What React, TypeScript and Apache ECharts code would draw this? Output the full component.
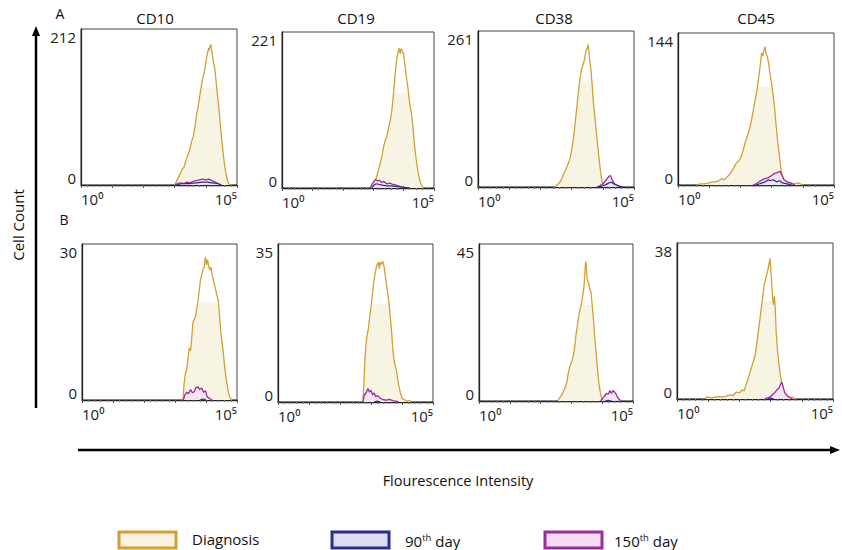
import React, { useEffect, useRef } from "react";
import * as echarts from "echarts";

// ---------- data (x in decades of fluorescence, y = cell count) ----------
const markers = ["CD10", "CD19", "CD38", "CD45"];
const rowLabels = ["A", "B"];
const yMaxLabels = [212, 221, 261, 144, 30, 35, 45, 38];
const fillCaps = [132, 135, 178, 93, 18.7, 21.7, 27.5, 23.9];
const legendNames = ["Diagnosis", "90th day", "150th day"];

const a1Diag = [[3.0,0],[3.05,4],[3.12,10],[3.2,17],[3.25,22],[3.3,24],[3.36,33],[3.42,40],[3.48,47],[3.55,60],[3.6,66],[3.65,78],[3.7,95],[3.76,108],[3.82,125],[3.88,140],[3.93,150],[3.98,160],[4.02,172],[4.06,180],[4.09,186],[4.11,183],[4.13,188],[4.16,191],[4.2,180],[4.24,168],[4.28,160],[4.32,145],[4.36,128],[4.4,112],[4.44,95],[4.48,75],[4.52,58],[4.56,42],[4.6,28],[4.65,15],[4.7,5],[4.75,1],[4.8,0]];
const a1D150 = [[3.0,0],[3.1,2],[3.2,3],[3.3,2],[3.4,4],[3.5,3],[3.6,5],[3.7,6],[3.8,7],[3.9,8],[4.0,7],[4.1,8],[4.2,6],[4.3,4],[4.4,2],[4.5,0]];
const a1D90 = [[3.05,0],[3.15,1],[3.3,2],[3.5,2],[3.7,3],[3.9,4],[4.05,4],[4.2,3],[4.35,2],[4.5,0]];

const a2Diag = [[2.92,0],[2.98,3],[3.05,8],[3.1,14],[3.15,22],[3.2,30],[3.25,38],[3.3,48],[3.35,60],[3.4,68],[3.44,72],[3.48,80],[3.53,90],[3.58,100],[3.62,112],[3.66,130],[3.7,150],[3.74,168],[3.78,185],[3.82,193],[3.86,198],[3.89,190],[3.91,197],[3.94,196],[3.97,192],[4.0,190],[4.04,176],[4.08,160],[4.12,150],[4.16,135],[4.2,120],[4.25,108],[4.3,90],[4.35,65],[4.4,45],[4.45,30],[4.5,17],[4.55,8],[4.6,3],[4.66,0]];
const a2D150 = [[2.9,0],[2.96,5],[3.02,9],[3.08,12],[3.14,10],[3.2,11],[3.28,8],[3.35,9],[3.45,6],[3.55,7],[3.65,5],[3.75,4],[3.9,2],[4.05,1],[4.2,0]];
const a2D90 = [[2.95,0],[3.02,4],[3.1,6],[3.2,5],[3.3,4],[3.45,3],[3.6,3],[3.8,2],[4.0,1],[4.2,0]];

const a3Diag = [[2.45,0],[2.55,4],[2.65,10],[2.75,22],[2.82,30],[2.9,40],[2.96,50],[3.02,68],[3.08,90],[3.13,115],[3.18,140],[3.22,160],[3.27,182],[3.32,198],[3.37,205],[3.42,215],[3.46,228],[3.5,232],[3.53,238],[3.55,230],[3.58,212],[3.62,196],[3.66,170],[3.7,140],[3.75,115],[3.8,88],[3.85,62],[3.9,38],[3.94,20],[3.98,8],[4.03,0]];
const a3D150 = [[3.8,0],[3.9,2],[4.0,5],[4.08,10],[4.14,14],[4.2,18],[4.25,19],[4.3,12],[4.36,6],[4.45,3],[4.55,1],[4.65,0]];
const a3D90 = [[3.85,0],[4.0,2],[4.1,4],[4.2,7],[4.28,8],[4.35,5],[4.45,3],[4.55,1],[4.65,0]];

const a4Diag = [[0.6,0],[0.7,1],[0.85,1],[1.0,2],[1.1,3],[1.2,3],[1.3,4],[1.4,6],[1.48,5],[1.55,7],[1.62,9],[1.7,12],[1.78,16],[1.85,20],[1.92,22],[2.0,25],[2.08,32],[2.15,40],[2.22,46],[2.3,54],[2.36,62],[2.42,72],[2.48,82],[2.53,90],[2.58,100],[2.63,112],[2.68,125],[2.72,122],[2.75,128],[2.79,131],[2.82,124],[2.86,122],[2.9,116],[2.95,105],[3.0,96],[3.05,85],[3.1,72],[3.15,55],[3.2,40],[3.25,28],[3.3,15],[3.36,7],[3.42,4],[3.5,3],[3.6,2],[3.7,1],[3.85,2],[4.0,0]];
const a4D150 = [[2.4,0],[2.5,1],[2.6,3],[2.7,5],[2.8,6],[2.9,7],[3.0,9],[3.1,11],[3.2,12],[3.27,13],[3.32,10],[3.4,5],[3.5,3],[3.6,2],[3.75,0]];
const a4D90 = [[2.5,0],[2.6,1],[2.7,2],[2.8,3],[2.9,5],[2.95,4],[3.05,5],[3.15,3],[3.25,4],[3.35,2],[3.5,1],[3.65,0]];

const b1Diag = [[3.26,0],[3.29,3],[3.33,5],[3.38,6],[3.42,8],[3.46,10],[3.5,9.5],[3.54,12],[3.58,15],[3.62,15.5],[3.66,16],[3.7,17.5],[3.74,19],[3.78,21],[3.82,23],[3.86,24],[3.9,25],[3.94,25.5],[3.98,27.5],[4.02,26],[4.05,27],[4.08,26],[4.12,25],[4.16,25.5],[4.2,24],[4.24,23],[4.28,22],[4.32,21],[4.36,20],[4.4,19],[4.44,16],[4.48,13],[4.52,11],[4.56,9],[4.6,6.5],[4.64,4.5],[4.68,3],[4.72,1.5],[4.77,0.5],[4.83,0]];
const b1D150 = [[3.27,0],[3.32,1],[3.38,1.5],[3.44,1.2],[3.5,2],[3.56,1.4],[3.62,1.6],[3.68,2.4],[3.74,2.5],[3.8,2],[3.86,2.3],[3.92,1.5],[3.98,1.8],[4.04,0.6],[4.12,0.3],[4.2,0]];
const b1D90 = [[3.8,0],[3.9,0.2],[4.0,0]];

const b2Diag = [[2.74,0],[2.77,4],[2.8,9],[2.84,13],[2.88,15],[2.92,16.5],[2.96,19],[3.0,21],[3.04,23.5],[3.08,26],[3.12,28],[3.16,29.5],[3.2,30.5],[3.24,31],[3.27,29.5],[3.3,31],[3.34,30.5],[3.38,31.2],[3.42,30],[3.46,28],[3.5,26],[3.54,24],[3.58,22],[3.62,19],[3.66,16],[3.7,12],[3.74,9.5],[3.78,8],[3.82,7],[3.86,5],[3.9,3.5],[3.95,2],[4.0,0.8],[4.08,0.5],[4.15,0.2],[4.25,0.3],[4.3,0]];
const b2D150 = [[2.74,0],[2.78,1.5],[2.84,2],[2.9,3],[2.95,2.2],[3.0,2.6],[3.05,1.6],[3.1,2],[3.15,1.2],[3.22,1.4],[3.3,0.8],[3.4,0.5],[3.5,0.4],[3.6,0.6],[3.7,0.3],[3.8,0.2],[3.9,0]];
const b2D90 = [[3.1,0],[3.2,0.2],[3.3,0]];

const b3Diag = [[2.56,0],[2.62,1],[2.7,2],[2.78,3.5],[2.84,5],[2.9,8],[2.95,10],[3.0,11],[3.05,12.5],[3.1,15],[3.15,19],[3.2,22],[3.25,25],[3.3,27],[3.35,29],[3.38,31],[3.41,33],[3.44,37],[3.46,40],[3.48,39],[3.51,35],[3.55,34],[3.6,32],[3.64,31],[3.68,27],[3.72,23],[3.76,18],[3.8,14],[3.84,10],[3.88,6],[3.92,3.5],[3.96,1.5],[4.02,0]];
const b3D150 = [[3.95,0],[4.02,0.8],[4.08,1.5],[4.14,2.2],[4.2,2],[4.25,3],[4.3,2.2],[4.35,3],[4.4,2.6],[4.45,2],[4.5,1],[4.56,0.4],[4.62,0]];
const b3D90 = [[4.1,0],[4.2,0.2],[4.3,0]];

const b4Diag = [[0.9,0],[0.95,0.5],[1.1,0.3],[1.3,0.6],[1.5,0.5],[1.7,1],[1.8,0.8],[1.9,1.7],[2.0,1.5],[2.08,2.2],[2.15,2],[2.2,3.2],[2.26,4.5],[2.32,6],[2.38,7.5],[2.44,9],[2.5,10.5],[2.55,13],[2.6,16],[2.65,19],[2.7,22],[2.75,25],[2.8,28],[2.85,29.5],[2.9,31],[2.94,32.5],[2.98,34.3],[3.02,30],[3.06,25],[3.09,23],[3.12,25],[3.15,22],[3.18,16],[3.22,12],[3.26,9],[3.3,6.5],[3.35,4],[3.4,2.5],[3.46,1],[3.55,0.4],[3.7,0.5],[3.8,0]];
const b4D150 = [[2.8,0],[2.9,0.3],[3.0,0.6],[3.08,1.2],[3.14,1.6],[3.2,2.2],[3.26,2.6],[3.32,3.6],[3.36,4.1],[3.4,3],[3.45,1.6],[3.5,1.2],[3.56,0.6],[3.62,0.3],[3.7,0]];
const b4D90 = [[2.9,0],[3.0,0.2],[3.1,0]];

const diagSets = [a1Diag, a2Diag, a3Diag, a4Diag, b1Diag, b2Diag, b3Diag, b4Diag];
const day90Sets = [a1D90, a2D90, a3D90, a4D90, b1D90, b2D90, b3D90, b4D90];
const day150Sets = [a1D150, a2D150, a3D150, a4D150, b1D150, b2D150, b3D150, b4D150];

// ---------- layout ----------
const gridBoxes = [
  [81, 29, 156, 156],
  [282, 32, 152, 156],
  [478, 31, 156, 156],
  [678, 33, 156, 152],
  [82, 244, 155, 156],
  [278, 244, 155, 158],
  [479, 244, 154, 157],
  [677, 243, 156, 156],
];

const FONT = "'Open Sans', 'Liberation Sans', sans-serif";
const GOLD = "#D3A031";
const CREAM = "#F8F4E4";
const BLUE = "#2D2D8E";
const BLUE_FILL = "#E6E6F4";
const PURPLE = "#9C2C9C";
const PURPLE_FILL = "#F3E2F2";

export default function App() {
  const ref = useRef<HTMLDivElement>(null);
  useEffect(() => {
    if (!ref.current) return;
    const chart = echarts.init(ref.current, undefined, { renderer: "svg" });

    const grid: any[] = [];
    const xAxis: any[] = [];
    const yAxis: any[] = [];
    const series: any[] = [];

    gridBoxes.forEach((b, i) => {
      grid.push({
        left: b[0], top: b[1], width: b[2], height: b[3],
        show: true, borderColor: "#444", borderWidth: 1, backgroundColor: "transparent",
      });
      xAxis.push({
        gridIndex: i, type: "value", min: 0, max: 5, interval: 1,
        axisLine: { show: true, onZero: false, lineStyle: { color: "#222", width: 1.3 } },
        axisTick: { show: true, length: 3, lineStyle: { color: "#555" } },
        minorTick: { show: true, splitNumber: 5, length: 2, lineStyle: { color: "#777" } },
        splitLine: { show: false },
        axisLabel: {
          fontFamily: FONT, fontSize: 15, color: "#222", margin: 6,
          showMinLabel: true, showMaxLabel: true,
          alignMinLabel: "left", alignMaxLabel: "right",
          formatter: (v: number) => (v === 0 ? "10\u2070" : v === 5 ? "10\u2075" : ""),
        },
      });
      const ymax = yMaxLabels[i];
      yAxis.push({
        gridIndex: i, type: "value", min: 0, max: ymax, interval: ymax,
        axisLine: { show: true, onZero: false, lineStyle: { color: "#222", width: 1.3 } },
        axisTick: { show: false, inside: true },
        minorTick: { show: false },
        splitLine: { show: false },
        axisLabel: {
          fontFamily: FONT, fontSize: 15, color: "#222", margin: 5,
          showMinLabel: true, showMaxLabel: true,
          verticalAlignMaxLabel: "top", verticalAlignMinLabel: "bottom",
        },
      });
      const cap = fillCaps[i];
      const diag = diagSets[i];
      series.push({
        type: "line", xAxisIndex: i, yAxisIndex: i, symbol: "none", silent: true,
        data: diag.map((p) => [p[0], Math.min(p[1], cap)]),
        lineStyle: { width: 0, opacity: 0 }, areaStyle: { color: CREAM, opacity: 1 }, z: 1,
      });
      series.push({
        type: "line", xAxisIndex: i, yAxisIndex: i, symbol: "none", silent: true,
        name: legendNames[0], data: diag,
        lineStyle: { color: GOLD, width: 1.3 }, z: 3,
      });
      series.push({
        type: "line", xAxisIndex: i, yAxisIndex: i, symbol: "none", silent: true,
        name: legendNames[2], data: day150Sets[i],
        lineStyle: { color: PURPLE, width: 1.3 }, areaStyle: { color: PURPLE_FILL, opacity: 0.8 }, z: 4,
      });
      series.push({
        type: "line", xAxisIndex: i, yAxisIndex: i, symbol: "none", silent: true,
        name: legendNames[1], data: day90Sets[i],
        lineStyle: { color: BLUE, width: 1.2 }, areaStyle: { color: BLUE_FILL, opacity: 0.6 }, z: 5,
      });
    });

    const titleCenters = [155, 356, 554, 756];
    const graphic: any[] = [];
    markers.forEach((m, i) => {
      graphic.push({
        type: "text", x: titleCenters[i], y: 18,
        style: { text: m, font: `15px ${FONT}`, fill: "#111", align: "center", verticalAlign: "middle" },
      });
    });
    graphic.push({ type: "text", x: 60, y: 13, style: { text: rowLabels[0], font: `14px ${FONT}`, fill: "#111", align: "center", verticalAlign: "middle" } });
    graphic.push({ type: "text", x: 64, y: 219, style: { text: rowLabels[1], font: `14px ${FONT}`, fill: "#111", align: "center", verticalAlign: "middle" } });

    // vertical arrow
    graphic.push({ type: "line", shape: { x1: 36, y1: 408, x2: 36, y2: 34 }, style: { stroke: "#000", lineWidth: 2.5 } });
    graphic.push({ type: "polygon", shape: { points: [[36, 26], [32, 36], [40, 36]] }, style: { fill: "#000" } });
    graphic.push({
      type: "text", x: 18, y: 225, rotation: Math.PI / 2,
      style: { text: "Cell Count", font: `15px ${FONT}`, fill: "#111", align: "center", verticalAlign: "middle" },
    });
    // horizontal arrow
    graphic.push({ type: "line", shape: { x1: 78, y1: 450, x2: 831, y2: 450 }, style: { stroke: "#000", lineWidth: 2.5 } });
    graphic.push({ type: "polygon", shape: { points: [[840, 450], [830, 446], [830, 454]] }, style: { fill: "#000" } });
    graphic.push({
      type: "text", x: 458, y: 480,
      style: { text: "Flourescence Intensity", font: `14.5px ${FONT}`, fill: "#111", align: "center", verticalAlign: "middle" },
    });

    // legend
    const legendBoxes = [
      { x: 119, stroke: GOLD, fill: "#FBF3E0", tx: 192 },
      { x: 332, stroke: BLUE, fill: "#DCDCF2", tx: 405 },
      { x: 545, stroke: PURPLE, fill: "#F3DCF1", tx: 614 },
    ];
    legendBoxes.forEach((lb, i) => {
      graphic.push({
        type: "rect", shape: { x: lb.x, y: 532, width: 57, height: 16 },
        style: { fill: lb.fill, stroke: lb.stroke, lineWidth: 3 },
      });
      const name = legendNames[i];
      const m = name.match(/^(\d+)(th)( day)$/);
      if (m) {
        graphic.push({
          type: "text", x: lb.tx, y: 541,
          style: {
            text: `{n|${m[1]}}{s|${m[2]}}{n|${m[3]}}`,
            verticalAlign: "middle",
            rich: {
              n: { fontFamily: FONT, fontSize: 15, fill: "#111", lineHeight: 18 },
              s: { fontFamily: FONT, fontSize: 9.5, fill: "#111", lineHeight: 18, verticalAlign: "top", padding: [0, 0, 6, 0] },
            },
          },
        });
      } else {
        graphic.push({
          type: "text", x: lb.tx, y: 539,
          style: { text: name, font: `15px ${FONT}`, fill: "#111", verticalAlign: "middle" },
        });
      }
    });

    chart.setOption({
      animation: false,
      backgroundColor: "#fff",
      grid, xAxis, yAxis, series, graphic,
    });
    return () => chart.dispose();
  }, []);
  return <div ref={ref} style={{ position: "fixed", left: 0, top: 0, width: 842, height: 550 }} />;
}
